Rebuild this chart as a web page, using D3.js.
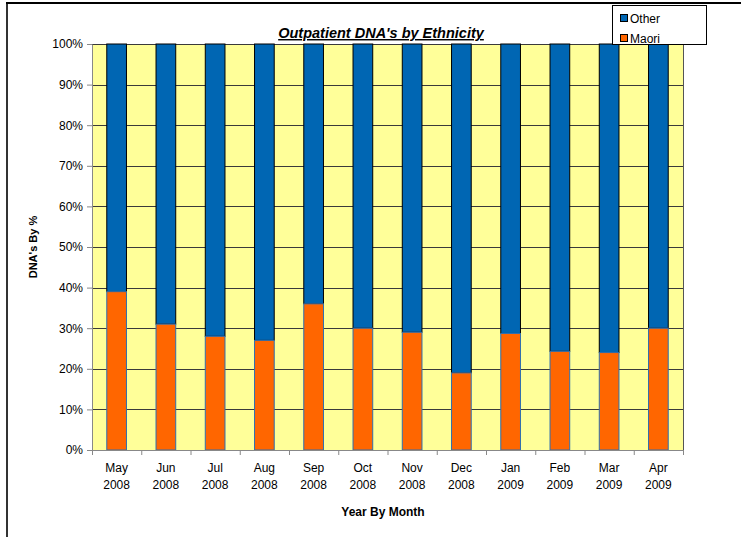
<!DOCTYPE html>
<html>
<head>
<meta charset="utf-8">
<script src="https://cdn.jsdelivr.net/npm/d3@7"></script>
<style>
  html, body { margin: 0; padding: 0; background: #fff; }
  svg { display: block; font-family: "Liberation Sans", Arial, sans-serif; }
</style>
</head>
<body>
<svg id="chart" width="741" height="537"></svg>
<script>
// Monthly outpatient DNA share by ethnicity (percent of total)
const months = ["May", "Jun", "Jul", "Aug", "Sep", "Oct", "Nov", "Dec", "Jan", "Feb", "Mar", "Apr"];
const years  = ["2008", "2008", "2008", "2008", "2008", "2008", "2008", "2008", "2009", "2009", "2009", "2009"];
const maori  = [39, 31, 28, 27, 36, 30, 29, 19, 28.7, 24.3, 24, 30];
const other  = maori.map(v => 100 - v);
const yTicks = [0, 10, 20, 30, 40, 50, 60, 70, 80, 90, 100];

const svg = d3.select("#chart");
const W = 741, H = 537;
const plot = { left: 92, right: 683, top: 44, bottom: 450 };

// outer chart frame (left and top edges visible)
svg.append("line").attr("x1", 7).attr("x2", 7).attr("y1", 3).attr("y2", H)
  .attr("stroke", "#333").attr("stroke-width", 2);
svg.append("line").attr("x1", 6).attr("x2", W).attr("y1", 3).attr("y2", 3)
  .attr("stroke", "#000").attr("stroke-width", 2);

const keys = months.map((m, i) => m + " " + years[i]);
const x = d3.scaleBand().domain(keys).range([plot.left, plot.right]).paddingInner(0.6).paddingOuter(0.3);
const xb = d3.scaleBand().domain(keys).range([plot.left, plot.right]);
const y = d3.scaleLinear().domain([0, 100]).range([plot.bottom, plot.top]);

// plot background
svg.append("rect").attr("x", plot.left).attr("y", plot.top)
  .attr("width", plot.right - plot.left).attr("height", plot.bottom - plot.top)
  .attr("fill", "#FFFF99");

// horizontal gridlines
svg.append("g").selectAll("line").data(yTicks.slice(1)).join("line")
  .attr("x1", plot.left).attr("x2", plot.right)
  .attr("y1", d => Math.round(y(d)) + 0.5).attr("y2", d => Math.round(y(d)) + 0.5)
  .attr("stroke", "#3a3a3a").attr("stroke-width", 1);

// right border of plot area
svg.append("line").attr("x1", plot.right + 0.5).attr("x2", plot.right + 0.5)
  .attr("y1", plot.top).attr("y2", plot.bottom).attr("stroke", "#555");

// stacked bars: Maori at the base, Other on top
const bars = svg.append("g");
keys.forEach((k, i) => {
  const bx = x(k), bw = x.bandwidth();
  bars.append("rect")
    .attr("x", bx).attr("width", bw)
    .attr("y", y(100)).attr("height", y(maori[i]) - y(100))
    .attr("fill", "#0066B3").attr("stroke", "#000").attr("stroke-width", 1);
  bars.append("rect")
    .attr("x", bx).attr("width", bw)
    .attr("y", y(maori[i])).attr("height", y(0) - y(maori[i]))
    .attr("fill", "#FF6600").attr("stroke", "#2F6FB0").attr("stroke-width", 1);
});

// y axis
const yAxis = d3.axisLeft(y).tickValues(yTicks).tickFormat(d => d + "%").tickSize(5).tickSizeOuter(0);
const gy = svg.append("g").attr("transform", `translate(${plot.left},0)`).call(yAxis);
gy.select(".domain").attr("stroke", "#888");
gy.selectAll(".tick line").attr("stroke", "#888");
gy.selectAll(".tick text").attr("font-size", 12).attr("fill", "#000")
  .attr("font-family", "Liberation Sans, Arial, sans-serif").attr("dx", -1);

// x axis: ticks at category boundaries
const gx = svg.append("g").attr("transform", `translate(0,${plot.bottom})`);
gx.append("line").attr("x1", plot.left).attr("x2", plot.right).attr("y1", 0.5).attr("y2", 0.5).attr("stroke", "#888");
const bounds = keys.map(k => xb(k)).concat([plot.right]);
gx.selectAll("line.tk").data(bounds).join("line").attr("class", "tk")
  .attr("x1", d => d + 0.5).attr("x2", d => d + 0.5).attr("y1", 0).attr("y2", 5).attr("stroke", "#888");
const lbl = gx.selectAll("text.cat").data(keys).join("text").attr("class", "cat")
  .attr("x", d => xb(d) + xb.bandwidth() / 2).attr("y", 22)
  .attr("text-anchor", "middle").attr("font-size", 12).attr("fill", "#000");
lbl.append("tspan").attr("x", d => xb(d) + xb.bandwidth() / 2).text((d, i) => months[i]);
lbl.append("tspan").attr("x", d => xb(d) + xb.bandwidth() / 2).attr("dy", 17).text((d, i) => years[i]);

// axis titles
svg.append("text").attr("x", 383).attr("y", 516)
  .attr("text-anchor", "middle").attr("font-size", 12).attr("font-weight", "bold").text("Year By Month");
svg.append("text").attr("transform", `translate(37,${(plot.top + plot.bottom) / 2}) rotate(-90)`)
  .attr("text-anchor", "middle").attr("font-size", 11).attr("font-weight", "bold").text("DNA's By %");

// chart title
svg.append("text").attr("x", 381).attr("y", 38).attr("text-anchor", "middle")
  .attr("font-size", 14.5).attr("font-weight", "bold").attr("font-style", "italic")
  .attr("text-decoration", "underline").text("Outpatient DNA's by Ethnicity");

// legend
const lg = svg.append("g").attr("transform", "translate(612,5)");
lg.append("rect").attr("x", 0.5).attr("y", 0.5).attr("width", 94).attr("height", 39)
  .attr("fill", "#fff").attr("stroke", "#000");
const items = [{ name: "Other", c: "#0066B3" }, { name: "Maori", c: "#FF6600" }];
items.forEach((it, i) => {
  const gy2 = 14 + i * 20;
  lg.append("rect").attr("x", 8.5).attr("y", gy2 - 4.5).attr("width", 7).attr("height", 7)
    .attr("fill", it.c).attr("stroke", "#000").attr("stroke-width", 1);
  lg.append("text").attr("x", 18).attr("y", gy2 + 4).attr("font-size", 12).text(it.name);
});
</script>
</body>
</html>
